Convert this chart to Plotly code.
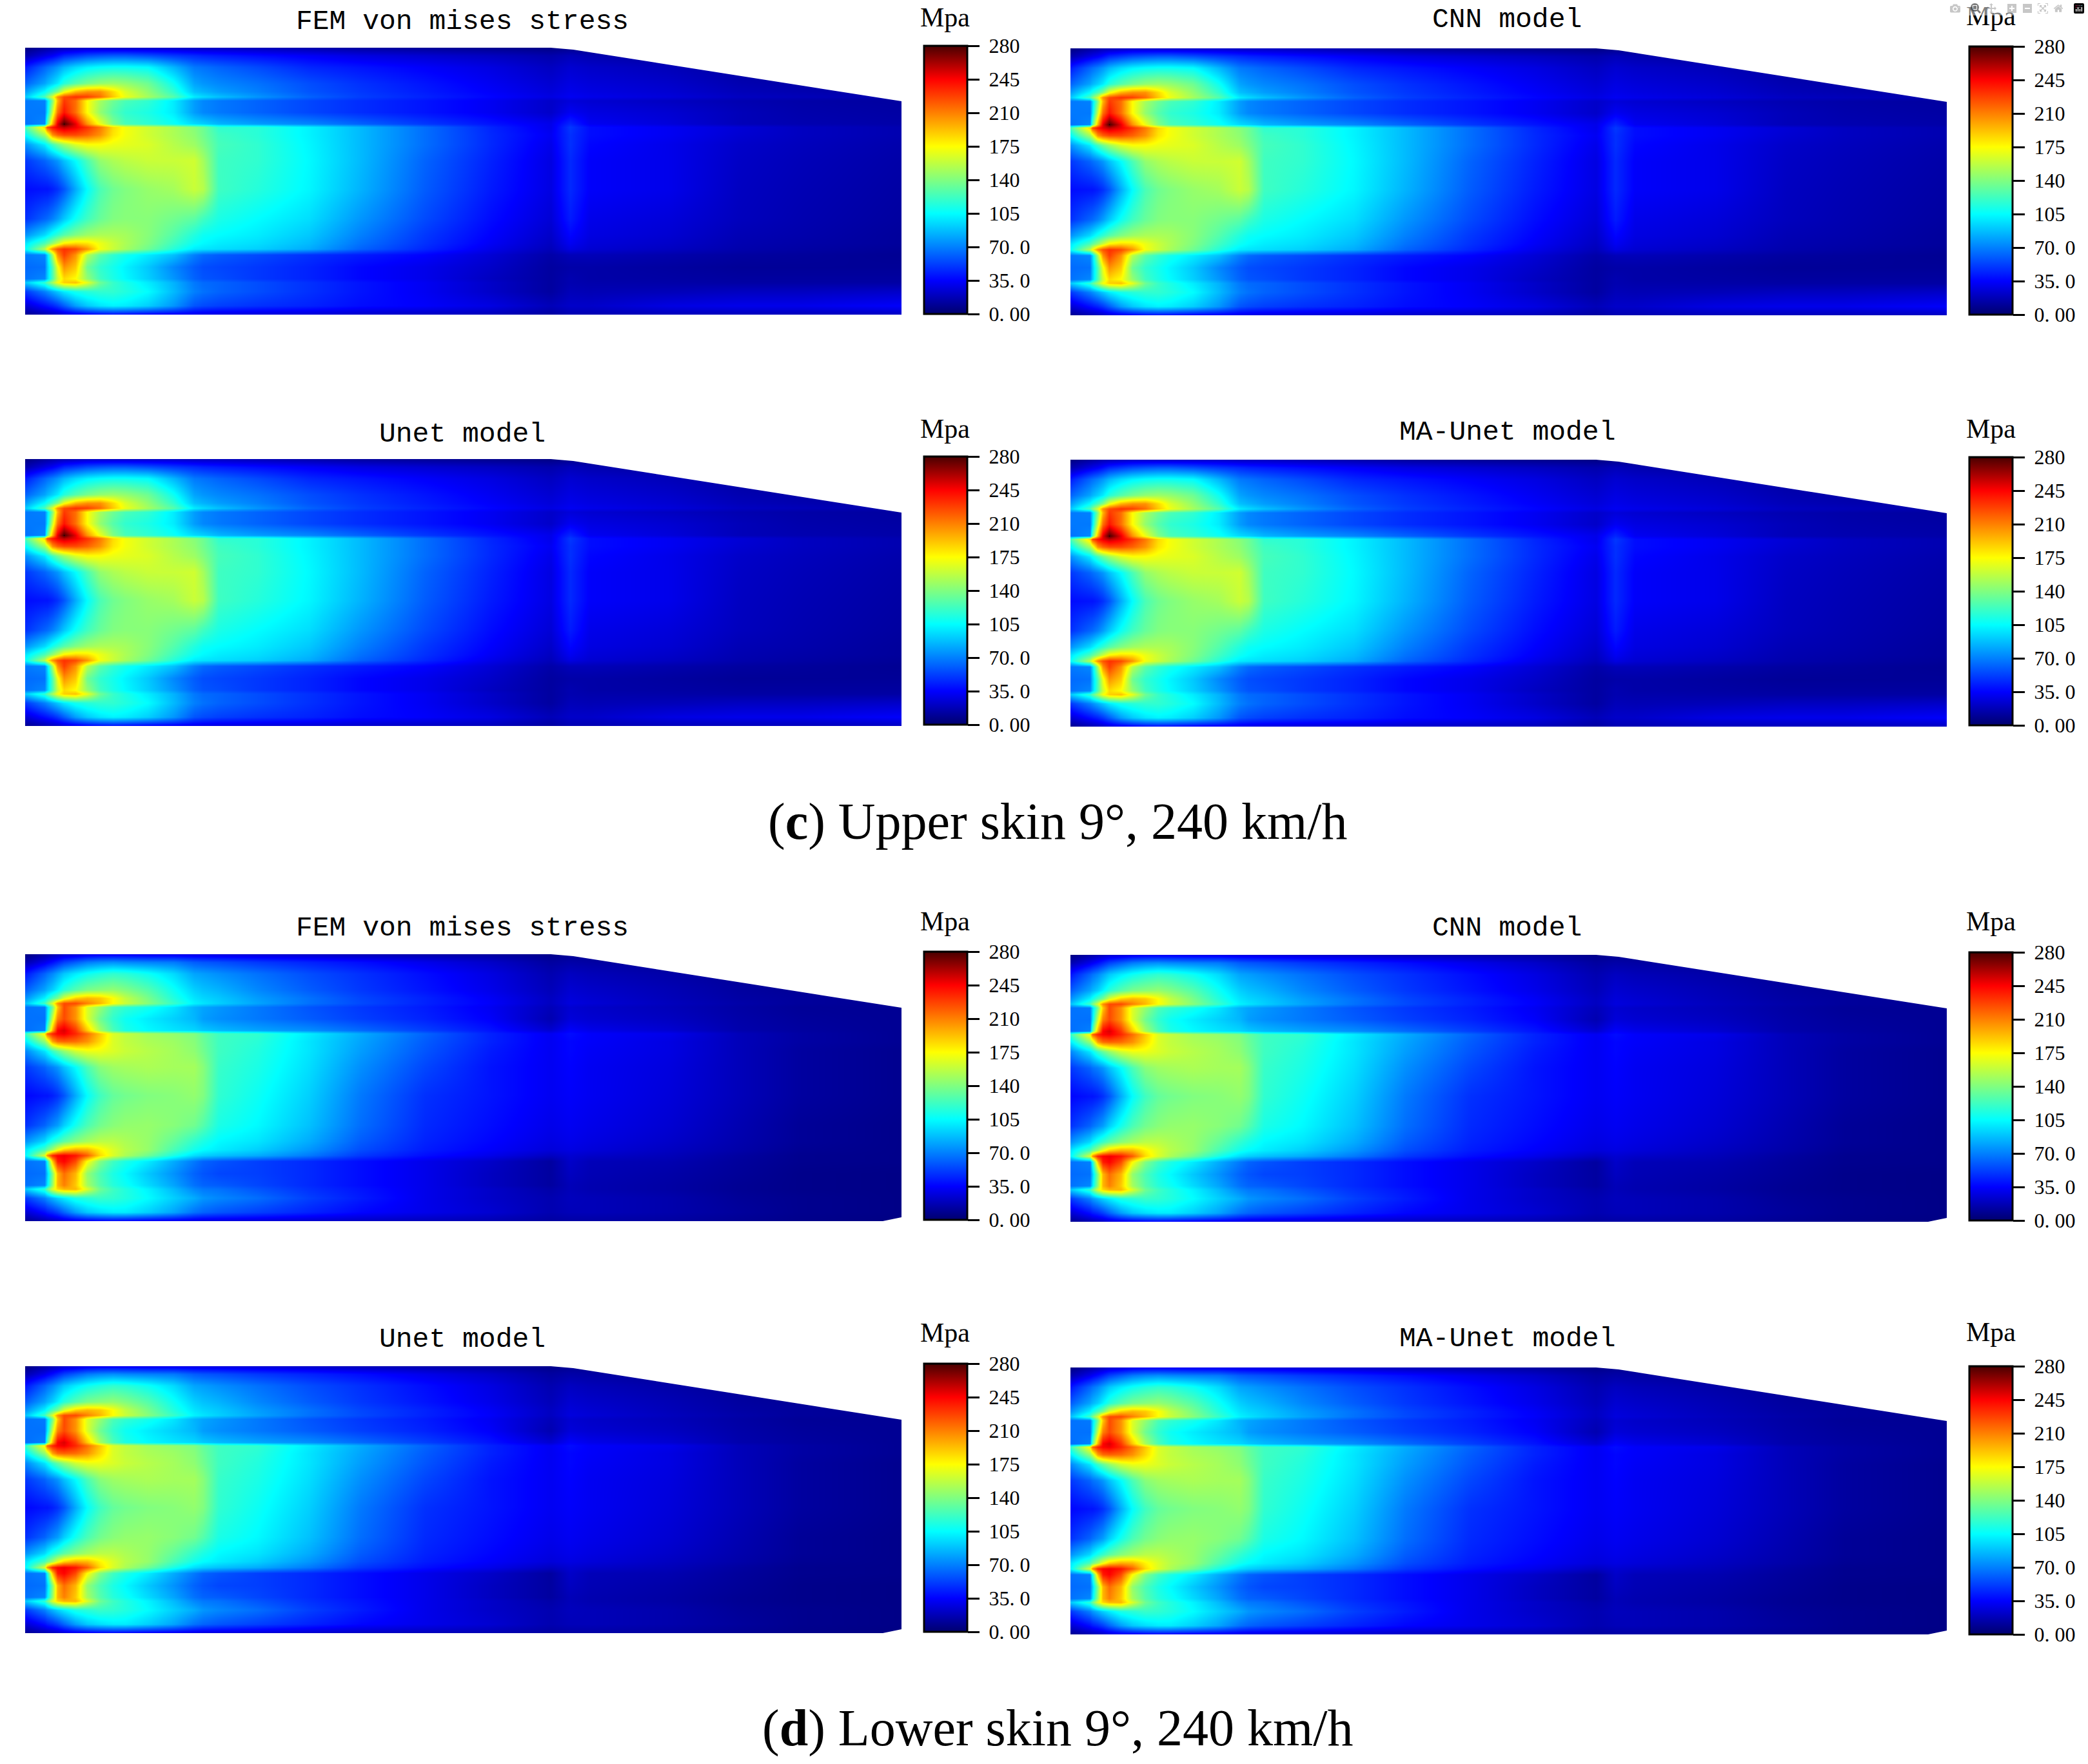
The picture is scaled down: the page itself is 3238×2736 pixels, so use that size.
import plotly.graph_objects as go

# Chart text
panel_titles = ["FEM von mises stress", "CNN model", "Unet model", "MA-Unet model"] * 2
captions = ["(<b>c</b>) Upper skin 9°, 240 km/h", "(<b>d</b>) Lower skin 9°, 240 km/h"]
unit = "Mpa"

# Colour bar ticks
bar_ticks = [0, 35, 70, 105, 140, 175, 210, 245, 280]
bar_labels = ["0. 00", "35. 0", "70. 0", "105", "140", "175", "210", "245", "280"]

span = [0, 30, 34, 42, 50, 60, 78, 96, 116, 136, 155, 190, 230, 262, 276, 300, 360, 440, 520, 620, 720, 815, 845, 875, 1000, 1110, 1200, 1359]
chord = [0, 12, 30, 55, 68, 76, 82, 100, 118, 123, 135, 150, 175, 219, 265, 290, 303, 312, 321, 340, 358, 364, 378, 400, 414]

upper_skin = [
    [5, 12, 13, 15, 17, 18, 20, 22, 22, 22, 22, 22, 22, 20, 20, 20, 18, 15, 12, 10, 8, 6, 8, 8, 6, 5, 5, 5],
    [15, 28, 30, 33, 38, 45, 50, 55, 58, 60, 60, 56, 50, 46, 44, 42, 38, 33, 28, 24, 20, 15, 18, 16, 12, 10, 8, 8],
    [42, 62, 65, 70, 76, 85, 95, 102, 106, 108, 108, 105, 85, 68, 66, 62, 55, 45, 40, 34, 28, 20, 24, 22, 18, 13, 12, 10],
    [62, 80, 85, 92, 100, 115, 128, 138, 145, 148, 145, 135, 108, 80, 76, 72, 66, 56, 48, 40, 32, 24, 28, 26, 22, 16, 14, 12],
    [78, 105, 112, 125, 140, 170, 195, 205, 205, 185, 165, 145, 118, 88, 84, 78, 70, 58, 50, 42, 34, 26, 30, 28, 24, 18, 16, 13],
    [90, 125, 140, 165, 205, 225, 232, 228, 215, 190, 170, 150, 128, 100, 95, 88, 76, 62, 52, 44, 36, 28, 32, 30, 26, 20, 18, 15],
    [68, 70, 95, 140, 195, 230, 215, 175, 150, 135, 125, 118, 100, 78, 72, 68, 62, 54, 47, 40, 32, 22, 26, 24, 20, 16, 14, 12],
    [68, 68, 100, 160, 215, 240, 215, 175, 145, 128, 118, 112, 100, 78, 72, 68, 62, 54, 47, 40, 32, 22, 32, 28, 24, 18, 15, 13],
    [66, 72, 130, 195, 250, 280, 250, 205, 170, 140, 125, 118, 108, 95, 92, 85, 78, 72, 62, 50, 40, 30, 45, 32, 26, 18, 16, 14],
    [125, 185, 225, 240, 250, 258, 248, 232, 212, 185, 172, 162, 152, 142, 135, 118, 116, 102, 86, 65, 45, 30, 50, 38, 32, 25, 20, 16],
    [105, 150, 165, 205, 218, 225, 225, 218, 205, 182, 172, 162, 152, 144, 136, 122, 116, 102, 86, 65, 46, 32, 48, 38, 32, 24, 20, 16],
    [75, 100, 108, 122, 135, 148, 165, 174, 174, 170, 168, 165, 155, 148, 140, 124, 118, 103, 86, 65, 46, 30, 48, 36, 30, 22, 19, 15],
    [50, 62, 65, 70, 76, 88, 105, 125, 145, 152, 156, 160, 160, 162, 150, 122, 118, 104, 86, 62, 44, 28, 46, 34, 30, 21, 18, 14],
    [38, 40, 40, 43, 48, 58, 82, 105, 125, 135, 140, 146, 150, 160, 155, 122, 115, 103, 84, 60, 42, 28, 46, 34, 30, 20, 17, 13],
    [48, 62, 64, 70, 78, 90, 108, 122, 133, 140, 142, 142, 136, 130, 122, 112, 105, 96, 76, 55, 38, 25, 42, 30, 26, 19, 16, 12],
    [75, 95, 100, 110, 118, 128, 140, 148, 152, 152, 150, 142, 128, 114, 108, 105, 100, 90, 70, 50, 35, 22, 36, 28, 24, 17, 15, 11],
    [98, 125, 132, 145, 160, 178, 185, 182, 170, 160, 152, 140, 122, 108, 104, 100, 96, 86, 66, 48, 33, 20, 32, 26, 22, 16, 14, 11],
    [105, 155, 175, 205, 222, 232, 225, 205, 172, 160, 150, 135, 115, 100, 98, 96, 92, 82, 62, 45, 30, 18, 28, 24, 20, 15, 13, 10],
    [68, 72, 95, 150, 205, 228, 205, 155, 130, 118, 110, 100, 88, 70, 64, 60, 55, 48, 42, 35, 25, 14, 18, 18, 15, 12, 11, 9],
    [64, 66, 90, 125, 170, 205, 190, 135, 118, 110, 102, 90, 72, 60, 56, 54, 50, 44, 36, 30, 22, 12, 14, 14, 12, 10, 10, 10],
    [66, 72, 92, 125, 160, 185, 175, 145, 122, 112, 104, 92, 76, 62, 58, 56, 50, 44, 36, 30, 20, 12, 16, 14, 13, 12, 12, 12],
    [90, 118, 130, 150, 172, 188, 192, 168, 135, 120, 112, 100, 84, 68, 64, 62, 56, 48, 40, 32, 22, 12, 16, 15, 14, 13, 13, 13],
    [50, 70, 74, 82, 90, 100, 110, 115, 118, 118, 114, 105, 86, 70, 66, 62, 56, 48, 40, 32, 22, 12, 18, 17, 18, 20, 20, 22],
    [24, 38, 40, 44, 50, 60, 78, 90, 98, 102, 100, 92, 76, 58, 55, 52, 48, 44, 38, 34, 28, 18, 22, 22, 28, 30, 30, 34],
    [8, 15, 16, 18, 20, 24, 28, 32, 35, 36, 35, 32, 30, 28, 27, 26, 25, 24, 22, 20, 18, 12, 16, 16, 18, 18, 18, 20],
]

lower_skin = [
    [5, 14, 15, 18, 20, 24, 26, 30, 32, 32, 32, 30, 30, 28, 28, 27, 25, 22, 18, 15, 12, 7, 9, 9, 7, 5, 5, 5],
    [15, 30, 33, 38, 44, 52, 60, 68, 72, 74, 72, 70, 68, 60, 58, 56, 50, 44, 38, 30, 22, 12, 14, 13, 10, 8, 6, 6],
    [40, 62, 66, 72, 80, 90, 100, 108, 114, 118, 116, 108, 95, 80, 78, 74, 66, 56, 48, 38, 28, 16, 20, 18, 14, 10, 8, 7],
    [60, 80, 85, 92, 102, 115, 128, 138, 142, 145, 140, 128, 108, 92, 88, 84, 72, 60, 50, 40, 30, 18, 24, 22, 17, 12, 10, 8],
    [75, 102, 110, 125, 138, 165, 188, 195, 190, 175, 158, 138, 114, 98, 94, 90, 78, 66, 54, 44, 33, 20, 26, 24, 18, 13, 11, 9],
    [88, 122, 138, 165, 205, 225, 225, 210, 195, 175, 160, 142, 120, 102, 98, 92, 80, 66, 55, 44, 34, 20, 27, 25, 19, 14, 11, 9],
    [66, 68, 95, 135, 190, 225, 205, 165, 145, 125, 118, 110, 98, 84, 80, 76, 68, 58, 50, 42, 32, 18, 24, 22, 18, 13, 10, 9],
    [66, 66, 100, 160, 210, 225, 205, 165, 135, 118, 108, 100, 92, 85, 78, 74, 68, 60, 52, 44, 34, 16, 26, 24, 20, 14, 11, 9],
    [65, 70, 130, 195, 245, 252, 230, 190, 150, 125, 112, 104, 98, 94, 90, 86, 80, 74, 64, 52, 40, 24, 34, 30, 24, 15, 12, 9],
    [120, 178, 218, 235, 245, 248, 235, 215, 190, 165, 158, 150, 145, 140, 132, 122, 118, 100, 82, 62, 44, 32, 38, 34, 30, 18, 13, 9],
    [100, 145, 160, 200, 215, 218, 215, 205, 185, 165, 158, 152, 148, 142, 134, 122, 116, 98, 80, 60, 44, 32, 36, 34, 28, 18, 13, 9],
    [72, 98, 105, 120, 132, 145, 162, 170, 170, 165, 160, 155, 150, 144, 136, 122, 114, 98, 78, 58, 42, 32, 36, 33, 28, 18, 12, 8],
    [50, 62, 66, 70, 76, 88, 105, 125, 142, 148, 150, 152, 150, 150, 142, 120, 112, 96, 74, 54, 40, 32, 35, 32, 27, 18, 12, 8],
    [36, 40, 40, 43, 48, 58, 82, 105, 122, 132, 136, 140, 142, 145, 140, 118, 108, 92, 68, 48, 40, 32, 34, 32, 26, 18, 12, 8],
    [48, 62, 66, 72, 78, 92, 110, 125, 136, 142, 145, 146, 142, 136, 128, 112, 104, 88, 65, 46, 38, 30, 32, 30, 24, 16, 10, 7],
    [75, 95, 102, 112, 120, 130, 142, 150, 156, 156, 152, 146, 132, 118, 112, 104, 98, 82, 60, 44, 36, 28, 30, 28, 22, 15, 10, 7],
    [98, 125, 135, 150, 170, 188, 198, 195, 178, 165, 155, 146, 125, 110, 105, 100, 92, 76, 56, 42, 34, 26, 28, 26, 20, 14, 9, 7],
    [102, 165, 205, 235, 245, 248, 240, 220, 185, 165, 152, 135, 112, 96, 92, 88, 82, 68, 50, 38, 30, 20, 24, 22, 18, 12, 8, 7],
    [66, 70, 110, 190, 238, 245, 225, 175, 140, 122, 112, 100, 82, 68, 62, 58, 52, 46, 38, 30, 22, 12, 22, 18, 16, 11, 8, 7],
    [64, 66, 92, 140, 195, 215, 195, 145, 125, 112, 104, 90, 75, 62, 58, 54, 52, 46, 38, 30, 20, 12, 20, 17, 14, 10, 7, 6],
    [66, 72, 100, 145, 195, 210, 190, 150, 128, 115, 108, 95, 80, 66, 62, 60, 54, 46, 38, 30, 20, 12, 18, 16, 13, 9, 7, 6],
    [90, 118, 135, 165, 185, 195, 195, 165, 135, 122, 114, 102, 86, 72, 68, 66, 58, 48, 40, 30, 22, 14, 18, 16, 13, 9, 7, 6],
    [50, 70, 76, 84, 92, 100, 112, 116, 120, 118, 114, 105, 92, 82, 76, 72, 65, 52, 42, 30, 22, 16, 19, 18, 15, 10, 8, 6],
    [24, 38, 42, 46, 52, 62, 78, 90, 96, 100, 100, 92, 80, 66, 62, 58, 52, 44, 36, 30, 24, 16, 18, 18, 15, 11, 8, 6],
    [8, 15, 16, 18, 20, 24, 28, 30, 32, 33, 32, 30, 28, 26, 25, 25, 24, 22, 20, 18, 16, 12, 13, 13, 12, 9, 7, 5],
]

# Skin outline: the swept trailing part is blanked out above this line
sweep_x = [815, 850, 1359, 1359]
sweep_y = [0, 3, 83, 0]
notch_x = [1330, 1359, 1359]
notch_y = [414, 408, 414]

# Jet style scale as in the figure, the last stop only shows at the hot spot
jet = [
    [0, "rgb(0,0,110)"], [0.125, "rgb(0,0,255)"], [0.25, "rgb(0,128,255)"],
    [0.375, "rgb(0,255,255)"], [0.5, "rgb(128,255,128)"], [0.625, "rgb(255,255,0)"],
    [0.75, "rgb(255,128,0)"], [0.875, "rgb(255,0,0)"], [0.995, "rgb(80,0,0)"], [1, "rgb(0,0,0)"],
]

W, H = 3238, 2736
PANEL_W, PANEL_H = 1359, 414
panel_left = [39, 1660]
panel_top = [74, 75, 712, 713, 1480, 1481, 2119, 2121]
bar_left = [1433, 3054]
bar_top = [71, 72, 708, 709, 1476, 1477, 2115, 2119]
bar_h = 416
title_mid = [717, 2337]
title_y = [33, 31, 673, 671, 1439, 1439, 2077, 2076]
unit_y = [27, 25, 665, 665, 1429, 1429, 2067, 2066]
unit_x = [1465, 3087]
caption_y = [1275, 2680]

serif = "Liberation Serif"
mono = "Liberation Mono"

fig = go.Figure()
annotations = []
shapes = []
axes = {}

for i in range(8):
    col = i % 2
    lower = i >= 4
    xn = "x" if i == 0 else f"x{i + 1}"
    yn = "y" if i == 0 else f"y{i + 1}"
    left = panel_left[col]
    top = panel_top[i]
    axes["xaxis" if i == 0 else f"xaxis{i + 1}"] = dict(
        domain=[left / W, (left + PANEL_W) / W], range=[span[0], span[-1]],
        visible=False, anchor=yn,
    )
    axes["yaxis" if i == 0 else f"yaxis{i + 1}"] = dict(
        domain=[1 - (top + PANEL_H) / H, 1 - top / H], range=[chord[-1], chord[0]],
        visible=False, anchor=xn,
    )
    fig.add_trace(go.Heatmap(
        x=span, y=chord, z=lower_skin if lower else upper_skin,
        xaxis=xn, yaxis=yn, zmin=0, zmax=280, zsmooth="best", colorscale=jet,
        colorbar=dict(
            x=bar_left[col] / W, xanchor="left", xpad=0, thickness=67, thicknessmode="pixels",
            y=1 - (bar_top[i] + bar_h) / H, yanchor="bottom", ypad=0, len=bar_h / H, lenmode="fraction",
            tickmode="array", tickvals=bar_ticks, ticktext=["&nbsp;" + t for t in bar_labels],
            ticks="outside", ticklen=18, tickwidth=3, tickcolor="black",
            outlinewidth=3, outlinecolor="black",
            tickfont=dict(family=serif, size=32, color="black"),
        ),
    ))

    # white cover over the part of the rectangle that is outside the skin
    path = "M" + " L".join(f"{a},{b}" for a, b in zip(sweep_x, sweep_y)) + " Z"
    shapes.append(dict(type="path", path=path, xref=xn, yref=yn, fillcolor="white", line_width=0))
    if lower:
        path = "M" + " L".join(f"{a},{b}" for a, b in zip(notch_x, notch_y)) + " Z"
        shapes.append(dict(type="path", path=path, xref=xn, yref=yn, fillcolor="white", line_width=0))

    annotations.append(dict(
        text=panel_titles[i], xref="paper", yref="paper", x=title_mid[col] / W, y=1 - title_y[i] / H,
        xanchor="center", yanchor="middle", showarrow=False,
        font=dict(family=mono, size=43, color="black"),
    ))
    annotations.append(dict(
        text=unit, xref="paper", yref="paper", x=unit_x[col] / W, y=1 - unit_y[i] / H,
        xanchor="center", yanchor="middle", showarrow=False,
        font=dict(family=serif, size=42, color="black"),
    ))

for text, y in zip(captions, caption_y):
    annotations.append(dict(
        text=text, xref="paper", yref="paper", x=1640 / W, y=1 - y / H,
        xanchor="center", yanchor="middle", showarrow=False,
        font=dict(family=serif, size=80, color="black"),
    ))

fig.update_layout(
    width=W, height=H, margin=dict(l=0, r=0, t=0, b=0),
    paper_bgcolor="white", plot_bgcolor="white",
    annotations=annotations, shapes=shapes, **axes,
)

fig.write_html("out.html", post_script="document.body.style.margin='0';")
